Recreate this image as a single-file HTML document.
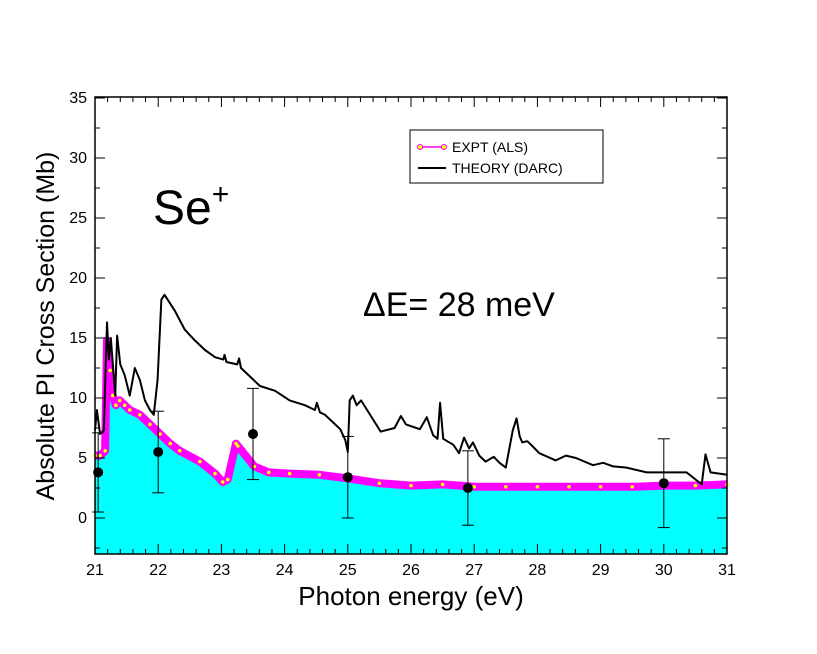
<!DOCTYPE html>
<html><head><meta charset="utf-8"><style>
body{margin:0;background:#fff;}
svg{display:block;font-family:"Liberation Sans",sans-serif;}
</style></head><body>
<svg id="c" width="817" height="654"></svg>
<script>
const theoryE=[21.0,21.03,21.08,21.14,21.19,21.22,21.25,21.29,21.32,21.35,21.4,21.47,21.55,21.63,21.71,21.79,21.87,21.93,21.99,22.05,22.1,22.26,22.42,22.58,22.74,22.9,23.03,23.05,23.08,23.25,23.28,23.31,23.45,23.61,23.85,24.08,24.32,24.48,24.51,24.56,24.64,24.72,24.88,24.96,25.0,25.03,25.08,25.14,25.21,25.52,25.74,25.84,25.92,26.14,26.25,26.35,26.42,26.46,26.51,26.67,26.76,26.84,26.92,26.98,27.08,27.18,27.31,27.4,27.5,27.56,27.61,27.67,27.72,27.76,27.84,27.92,28.03,28.29,28.45,28.61,28.88,29.04,29.2,29.41,29.73,29.89,30.11,30.36,30.6,30.66,30.74,31.0];
const theoryS=[7.3,9.0,7.0,7.3,16.3,13.2,15.0,12.3,10.2,15.2,12.8,11.9,10.2,12.5,11.5,9.8,9.0,8.6,11.5,18.2,18.6,17.3,15.7,14.8,14.0,13.4,13.2,13.6,13.0,12.8,13.3,12.5,11.8,11.0,10.6,9.8,9.4,9.0,9.6,8.8,8.6,8.2,7.4,6.5,5.5,9.8,10.2,9.4,9.8,7.2,7.5,8.5,7.8,7.4,8.4,6.9,6.6,9.6,6.6,6.1,5.4,6.7,5.8,6.3,5.2,4.7,5.1,4.6,4.2,5.9,7.3,8.3,6.8,6.3,6.4,6.0,5.4,4.8,5.2,5.0,4.4,4.6,4.3,4.2,3.8,3.8,3.8,3.8,2.8,5.3,3.8,3.6];
const exptE=[21.0,21.08,21.16,21.19,21.24,21.28,21.33,21.39,21.47,21.55,21.71,21.87,22.03,22.19,22.34,22.66,22.9,23.02,23.1,23.23,23.26,23.52,23.75,24.08,24.55,25.0,25.5,26.0,26.5,27.0,27.5,28.0,28.5,29.0,29.5,30.0,30.5,31.0];
const exptS=[5.2,5.2,5.6,14.8,12.3,10.2,9.4,9.8,9.4,9.0,8.6,7.8,7.0,6.2,5.6,4.7,3.7,3.0,3.2,6.2,6.0,4.3,3.8,3.7,3.6,3.3,2.9,2.7,2.8,2.6,2.6,2.6,2.6,2.6,2.6,2.7,2.7,2.8];
const ptE=[21.05,22.0,23.5,25.0,26.9,30.0];
const ptS=[3.8,5.5,7.0,3.4,2.5,2.9];
const ptErr=[3.3,3.4,3.8,3.4,3.1,3.7];
const xTicks=[21,22,23,24,25,26,27,28,29,30,31];
const yTicks=[0,5,10,15,20,25,30,35];

const L=95,R=727,T=97,B=554;
const X=e=>L+(e-21)/10*(R-L);
const Y=s=>518-s*12;
const svg=document.getElementById('c');
const NS='http://www.w3.org/2000/svg';
function mk(tag,attrs,parent){const el=document.createElementNS(NS,tag);for(const k in attrs)el.setAttribute(k,attrs[k]);(parent||svg).appendChild(el);return el;}

let d='M'+X(exptE[0])+','+B;
exptE.forEach((e,i)=>{d+=' L'+X(e)+','+Y(exptS[i]);});
d+=' L'+X(exptE[exptE.length-1])+','+B+' Z';
const area=mk('path',{d:d,fill:'#00ffff'});


const ep=mk('polyline',{points:exptE.map((e,i)=>X(e)+','+Y(exptS[i])).join(' '),fill:'none',stroke:'#ff00ff','stroke-width':8,'stroke-linejoin':'round'});


exptE.forEach((e,i)=>{const c=mk('circle',{cx:X(e),cy:Y(exptS[i]),r:1.8,fill:'#ffff00'});

});
const tp=mk('polyline',{points:theoryE.map((e,i)=>X(e)+','+Y(theoryS[i])).join(' '),fill:'none',stroke:'#000','stroke-width':2,'stroke-linejoin':'round'});


ptE.forEach((e,i)=>{
 const g=mk('g',{});
 
 
 const x=X(e),y1=Y(ptS[i]+ptErr[i]),y2=Y(ptS[i]-ptErr[i]);
 mk('line',{x1:x,x2:x,y1:y1,y2:y2,stroke:'#000','stroke-width':1},g);
 mk('line',{x1:x-6,x2:x+6,y1:y1,y2:y1,stroke:'#000','stroke-width':1},g);
 mk('line',{x1:x-6,x2:x+6,y1:y2,y2:y2,stroke:'#000','stroke-width':1},g);
 mk('circle',{cx:x,cy:Y(ptS[i]),r:5,fill:'#000'},g);
});
const fr=mk('rect',{x:L,y:T,width:R-L,height:B-T,fill:'none',stroke:'#000','stroke-width':1.5});


for(let k=0;k<=50;k++){const e=21+k*0.2,x=X(e),maj=k%5==0,len=maj?10:5;
 mk('line',{x1:x,x2:x,y1:B,y2:B-len,stroke:'#000'});mk('line',{x1:x,x2:x,y1:T,y2:T+len,stroke:'#000'});}
xTicks.forEach(v=>{const t=mk('text',{x:X(v),y:B+21,'text-anchor':'middle','font-size':16});t.textContent=v;

});
for(let k=-1;k<=14;k++){const s=k*2.5,y=Y(s);if(y>B)continue;const maj=k%2==0,len=maj?10:5;
 mk('line',{x1:L,x2:L+len,y1:y,y2:y,stroke:'#000'});mk('line',{x1:R,x2:R-len,y1:y,y2:y,stroke:'#000'});}
yTicks.forEach(v=>{const t=mk('text',{x:L-8,y:Y(v)+5,'text-anchor':'end','font-size':16});t.textContent=v;

});
</script>
<svg style="position:absolute;left:0;top:0" width="817" height="654">
<text x="411" y="605" text-anchor="middle" font-size="26" font-family="Liberation Sans">Photon energy (eV)</text>
<text transform="translate(54,326) rotate(-90)" text-anchor="middle" font-size="25" font-family="Liberation Sans">Absolute PI Cross Section (Mb)</text>
<text x="153" y="224" font-size="48" font-family="Liberation Sans">Se<tspan font-size="30" dy="-20">+</tspan></text>
<text x="363" y="316" font-size="34" font-family="Liberation Sans">ΔE= 28 meV</text>
<g>
<rect x="410" y="130" width="193" height="53" fill="#fff" stroke="#000" stroke-width="1"/>
<line x1="418" x2="446" y1="147" y2="147" stroke="#ff00ff" stroke-width="1.5"/>
<circle cx="420" cy="147" r="2.5" fill="#ffff00" stroke="#ff00ff"/>
<circle cx="444" cy="147" r="2.5" fill="#ffff00" stroke="#ff00ff"/>
<text x="452" y="152" font-size="14" font-family="Liberation Sans">EXPT (ALS)</text>
<line x1="418" x2="446" y1="168" y2="168" stroke="#000" stroke-width="2"/>
<text x="452" y="173" font-size="14" font-family="Liberation Sans">THEORY (DARC)</text>
</g>
</svg>
</body></html>
